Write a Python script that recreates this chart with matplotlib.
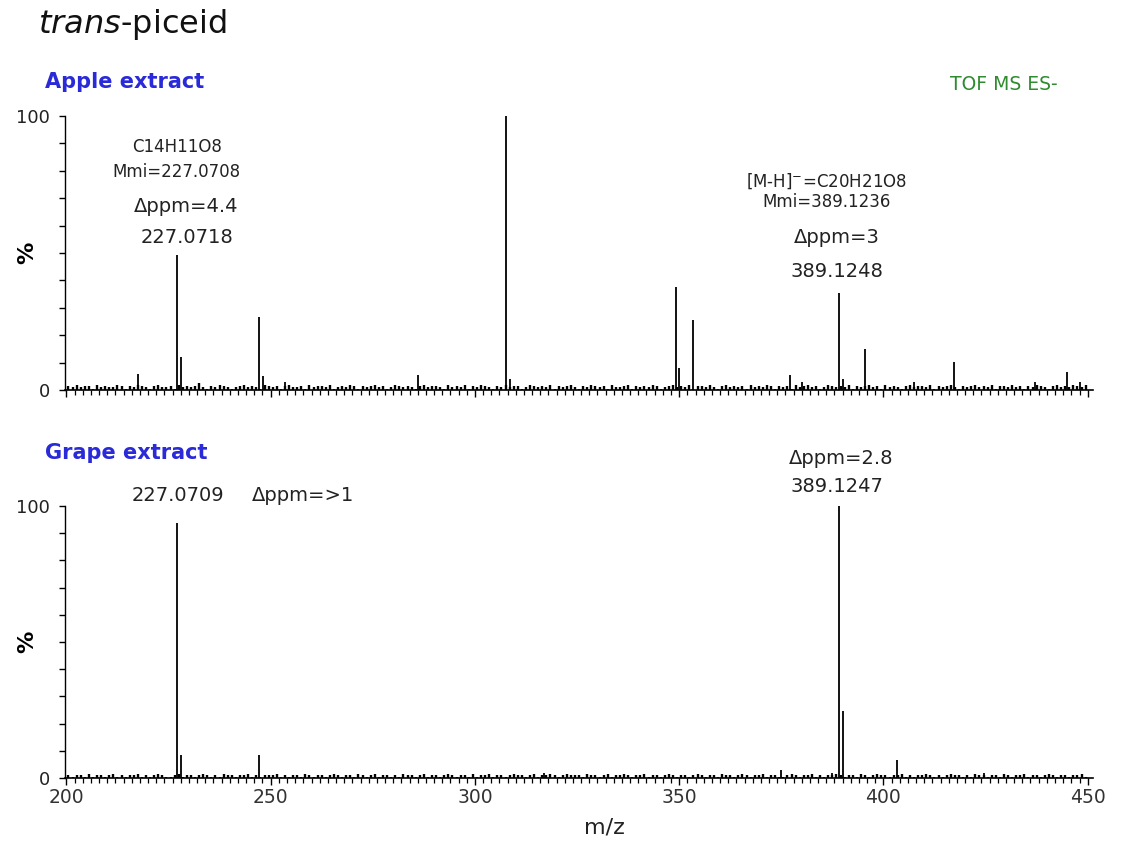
import numpy as np
import matplotlib
matplotlib.use("Agg")
import matplotlib.pyplot as plt
from matplotlib.ticker import MultipleLocator, FixedLocator

plt.rcParams['font.family'] = ['DejaVu Sans']

# ---------------- data ----------------
apple_mz = [217.5, 227.07, 228.08, 247.15, 248.1, 253.5, 286.1, 307.5, 308.5,
            349.2, 350.0, 353.4, 377.2, 380.0, 389.12, 390.1, 395.4, 407.4,
            417.3, 437.1, 445.0, 448.2]
apple_int = [6.0, 49.3, 12.0, 26.6, 5.0, 3.0, 5.5, 100.0, 4.0,
             37.6, 8.0, 25.5, 5.5, 3.0, 35.4, 4.0, 15.0, 3.0,
             10.2, 3.0, 6.5, 3.0]

grape_mz = [227.07, 228.08, 247.15, 317.0, 374.9, 387.4, 389.12, 390.12, 403.4, 424.6]
grape_int = [93.8, 8.5, 8.5, 2.0, 3.0, 2.0, 100.0, 24.6, 6.6, 2.0]

# baseline noise, heights in half-percent units, one value per m/z unit from 200.5
apple_noise_half = [
    3, 2, 4, 2, 3, 3, 1, 4, 2, 3, 2, 2, 4, 3, 1, 3, 2, 4, 3, 2, 1, 3, 4, 2, 2,
    3, 1, 4, 2, 3, 2, 3, 5, 2, 1, 3, 2, 4, 3, 2, 1, 2, 3, 4, 2, 3, 2, 1, 4, 3,
    2, 3, 1, 3, 4, 2, 2, 3, 1, 4, 2, 3, 3, 2, 4, 1, 2, 3, 2, 4, 3, 1, 3, 2, 3,
    4, 2, 3, 1, 2, 4, 3, 2, 3, 2, 1, 3, 4, 2, 3, 3, 2, 1, 4, 2, 3, 2, 4, 1, 3,
    2, 4, 3, 2, 1, 3, 2, 4, 2, 3, 3, 1, 2, 4, 3, 2, 3, 2, 4, 1, 3, 2, 3, 4, 2,
    1, 3, 2, 4, 3, 2, 3, 1, 4, 2, 2, 3, 4, 1, 3, 2, 3, 2, 4, 3, 1, 2, 3, 4, 2,
    3, 2, 4, 1, 3, 3, 2, 4, 2, 1, 3, 4, 2, 3, 2, 3, 1, 4, 2, 3, 2, 4, 3, 1, 3,
    2, 3, 1, 4, 2, 3, 4, 2, 3, 1, 2, 4, 3, 2, 3, 2, 4, 1, 3, 2, 3, 4, 2, 3, 1,
    4, 2, 3, 2, 1, 3, 4, 2, 3, 3, 2, 4, 1, 3, 2, 3, 4, 2, 1, 3, 2, 3, 4, 2, 3,
    2, 4, 1, 3, 3, 2, 4, 2, 3, 1, 3, 2, 4, 3, 2, 1, 3, 4, 2, 3, 2, 4, 3, 2, 4,
]
grape_noise_half = [
    2, 1, 2, 2, 1, 3, 1, 2, 2, 1, 2, 3, 1, 2, 1, 2, 2, 3, 1, 2, 1, 2, 3, 2, 1,
    1, 2, 3, 1, 2, 2, 1, 2, 3, 2, 1, 2, 1, 3, 2, 2, 1, 2, 2, 3, 1, 2, 1, 2, 2,
    2, 3, 1, 2, 1, 2, 2, 1, 3, 2, 1, 2, 2, 1, 2, 3, 2, 1, 2, 2, 1, 3, 2, 1, 2,
    3, 1, 2, 2, 1, 2, 1, 3, 2, 2, 1, 2, 3, 1, 2, 2, 1, 2, 3, 2, 1, 2, 2, 1, 3,
    1, 2, 2, 3, 1, 2, 2, 1, 2, 3, 2, 2, 1, 2, 3, 1, 2, 2, 3, 2, 1, 2, 3, 2, 2,
    2, 1, 3, 2, 2, 1, 2, 3, 1, 2, 2, 3, 2, 1, 2, 2, 3, 1, 2, 2, 1, 2, 3, 2, 1,
    2, 2, 1, 2, 3, 2, 1, 2, 2, 1, 3, 2, 2, 1, 2, 3, 2, 1, 2, 2, 3, 1, 2, 2, 1,
    1, 2, 3, 2, 1, 2, 2, 3, 1, 2, 1, 2, 2, 3, 2, 1, 2, 2, 1, 3, 2, 1, 2, 3, 2,
    2, 1, 2, 2, 3, 1, 2, 1, 2, 2, 3, 2, 1, 2, 1, 2, 3, 2, 2, 1, 2, 1, 3, 2, 2,
    1, 2, 2, 1, 3, 2, 1, 2, 2, 3, 1, 2, 2, 1, 2, 3, 2, 1, 2, 2, 1, 2, 2, 3, 1,
]
noise_start = 200.5

x_ticks = [200, 250, 300, 350, 400, 450]
y_ticks = [0, 100]

# ---------------- figure ----------------
W, H = 1124, 843
fig = plt.figure(figsize=(W / 100, H / 100), dpi=100)

def fx(px):
    return px / W

def fy(py):
    return 1 - py / H

XMIN, XMAX = 199.66, 451.3
ax_top = fig.add_axes([fx(65), fy(390), fx(1093) - fx(65), fy(116) - fy(390)])
ax_bot = fig.add_axes([fx(65), fy(778), fx(1093) - fx(65), fy(506) - fy(778)])

def draw_spectrum(ax, mz, inten, noise_half):
    nx = noise_start + np.arange(len(noise_half))
    ny = np.array(noise_half) * 0.5
    ax.vlines(nx, 0, ny, color='black', linewidth=1.7)
    ax.vlines(mz, 0, inten, color='black', linewidth=1.3)
    ax.set_xlim(XMIN, XMAX)
    ax.set_ylim(0, 100)
    for s in ['top', 'right']:
        ax.spines[s].set_visible(False)
    ax.spines['left'].set_linewidth(1.0)
    ax.spines['bottom'].set_linewidth(1.2)
    ax.yaxis.set_major_locator(FixedLocator(y_ticks))
    ax.yaxis.set_minor_locator(MultipleLocator(10))
    ax.set_yticklabels([str(t) for t in y_ticks])
    ax.tick_params(axis='y', which='both', direction='out', length=4, width=1,
                   labelsize=13, pad=7, colors='black', labelcolor='#222222')
    ax.xaxis.set_major_locator(FixedLocator(x_ticks))
    ax.xaxis.set_minor_locator(MultipleLocator(2))
    ax.tick_params(axis='x', which='major', direction='out', length=5, width=1,
                   labelsize=13.5, pad=2, labelcolor='#333333')
    ax.tick_params(axis='x', which='minor', direction='out', length=3.5, width=0.9)
    ax.set_ylabel('%', fontsize=16, fontweight='bold')
    ax.yaxis.set_label_coords(-0.027, 0.5)

draw_spectrum(ax_top, apple_mz, apple_int, apple_noise_half)
draw_spectrum(ax_bot, grape_mz, grape_int, grape_noise_half)
ax_top.tick_params(axis='x', labelbottom=False)
ax_bot.set_xlabel('m/z', fontsize=16, color='#222222')
ax_bot.xaxis.set_label_coords(0.525, -0.145)

tc = '#222222'
def ann(ax, x, y, s, size, ha='center'):
    ax.text(x, y, s, fontsize=size, ha=ha, va='center', color=tc, clip_on=False)

# apple annotations
ann(ax_top, 227.0, 88.7, 'C14H11O8', 12)
ann(ax_top, 227.0, 79.6, 'Mmi=227.0708', 12)
ann(ax_top, 229.3, 66.8, '\u0394ppm=4.4', 14)
ann(ax_top, 229.6, 55.8, '227.0718', 14)
ann(ax_top, 386.0, 76.3, '[M-H]$^{-}$=C20H21O8', 12)
ann(ax_top, 386.0, 68.6, 'Mmi=389.1236', 12)
ann(ax_top, 388.7, 55.5, '\u0394ppm=3', 14)
ann(ax_top, 388.7, 43.1, '389.1248', 14)

# grape annotations
ann(ax_bot, 227.2, 104.0, '227.0709', 14)
ann(ax_bot, 245.5, 104.0, '\u0394ppm=>1', 14, ha='left')
ann(ax_bot, 389.6, 117.6, '\u0394ppm=2.8', 14)
ann(ax_bot, 388.7, 107.0, '389.1247', 14)

# titles
fig.text(fx(38), fy(24), r'$\mathit{trans}$-piceid', fontsize=23, ha='left',
         va='center', color='#111111')
fig.text(fx(45), fy(82), 'Apple extract', fontsize=15, fontweight='bold',
         color='#2a2ad8', ha='left', va='center')
fig.text(fx(45), fy(453), 'Grape extract', fontsize=15, fontweight='bold',
         color='#2a2ad8', ha='left', va='center')
fig.text(fx(1004), fy(85), 'TOF MS ES-', fontsize=13.5, color='#2e8b2e',
         ha='center', va='center')

fig.savefig('out.png', dpi=100, facecolor='white')
